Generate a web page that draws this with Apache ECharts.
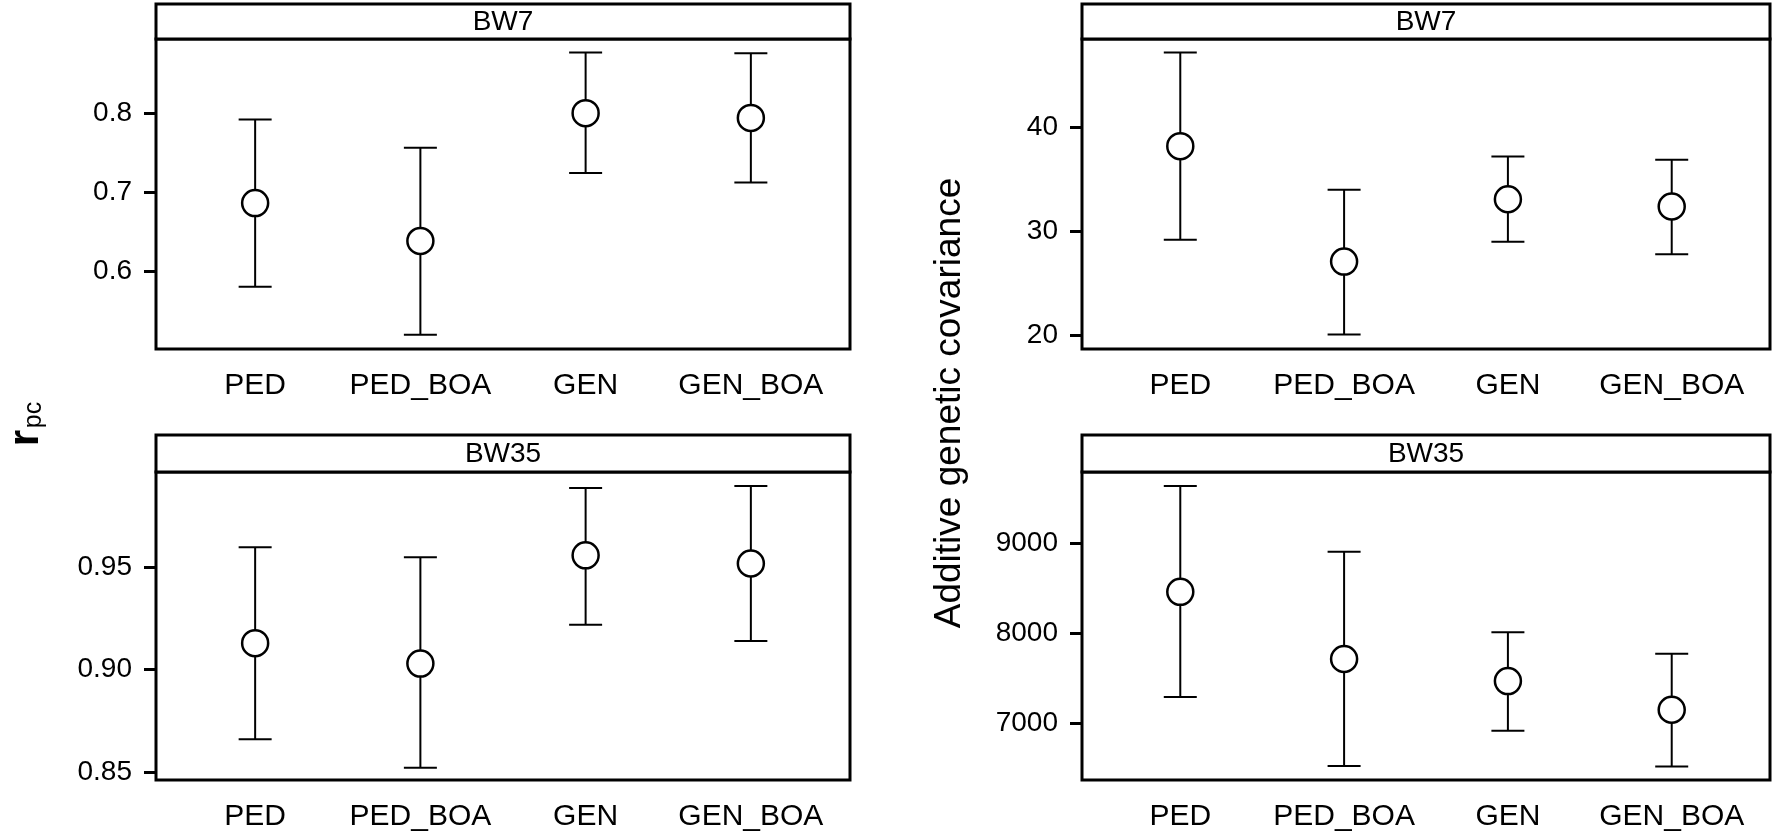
<!DOCTYPE html>
<html><head><meta charset="utf-8">
<script src="https://cdn.jsdelivr.net/npm/echarts@6/dist/echarts.min.js"></script>
<style>html,body{margin:0;padding:0;background:#fff}#c{width:1773px;height:837px}</style>
</head><body><div id="c"></div>
<script>
// ---- data ----
const categories = ['PED', 'PED_BOA', 'GEN', 'GEN_BOA'];

const bw7RpcEst  = [0.686, 0.638, 0.800, 0.794];
const bw7RpcLow  = [0.580, 0.519, 0.724, 0.712];
const bw7RpcHigh = [0.792, 0.756, 0.877, 0.876];

const bw35RpcEst  = [0.913, 0.903, 0.956, 0.952];
const bw35RpcLow  = [0.866, 0.852, 0.922, 0.914];
const bw35RpcHigh = [0.960, 0.955, 0.989, 0.990];

const bw7CovEst  = [38.2, 27.1, 33.1, 32.4];
const bw7CovLow  = [29.2, 20.1, 29.0, 27.8];
const bw7CovHigh = [47.2, 34.0, 37.2, 36.9];

const bw35CovEst  = [8462, 7715, 7470, 7151];
const bw35CovLow  = [7292, 6526, 6919, 6519];
const bw35CovHigh = [9640, 8907, 8014, 7773];

const bw7RpcTicks = [0.6, 0.7, 0.8];
const bw7RpcTickLabels = ['0.6', '0.7', '0.8'];
const bw35RpcTicks = [0.85, 0.90, 0.95];
const bw35RpcTickLabels = ['0.85', '0.90', '0.95'];
const bw7CovTicks = [20, 30, 40];
const bw7CovTickLabels = ['20', '30', '40'];
const bw35CovTicks = [7000, 8000, 9000];
const bw35CovTickLabels = ['7000', '8000', '9000'];

const stripLabels = ['BW7', 'BW35'];
const yTitleRight = 'Additive genetic covariance';

// ---- layout ----
const FONT = '"Liberation Sans", Arial, Helvetica, sans-serif';
const panels = [
  {strip: stripLabels[0], est: bw7RpcEst, low: bw7RpcLow, high: bw7RpcHigh, ticks: bw7RpcTicks, labels: bw7RpcTickLabels,
   min: 0.501, max: 0.894, left: 156, top: 39, width: 694, height: 310, stripTop: 4},
  {strip: stripLabels[0], est: bw7CovEst, low: bw7CovLow, high: bw7CovHigh, ticks: bw7CovTicks, labels: bw7CovTickLabels,
   min: 18.7, max: 48.5, left: 1082, top: 39, width: 688, height: 310, stripTop: 4},
  {strip: stripLabels[1], est: bw35RpcEst, low: bw35RpcLow, high: bw35RpcHigh, ticks: bw35RpcTicks, labels: bw35RpcTickLabels,
   min: 0.846, max: 0.9968, left: 156, top: 472, width: 694, height: 308, stripTop: 435},
  {strip: stripLabels[1], est: bw35CovEst, low: bw35CovLow, high: bw35CovHigh, ticks: bw35CovTicks, labels: bw35CovTickLabels,
   min: 6370, max: 9795, left: 1082, top: 472, width: 688, height: 308, stripTop: 435}
];

const grid = [], xAxis = [], yAxis = [], series = [], graphic = [];
panels.forEach((p, i) => {
  grid.push({left: p.left, top: p.top, width: p.width, height: p.height, show: true,
             borderColor: '#000', borderWidth: 3, backgroundColor: 'transparent', containLabel: false});
  xAxis.push({type: 'value', gridIndex: i, min: 0.4, max: 4.6,
    axisLine: {show: false}, axisTick: {show: false}, splitLine: {show: false},
    axisLabel: {customValues: categories.map((c, k) => k + 1), formatter: v => categories[Math.round(v) - 1],
                margin: 22, color: '#000', fontSize: 30, fontFamily: FONT}});
  yAxis.push({type: 'value', gridIndex: i, min: p.min, max: p.max,
    axisLine: {show: false}, splitLine: {show: false},
    axisTick: {show: true, customValues: p.ticks, length: 12, lineStyle: {color: '#000', width: 3}},
    axisLabel: {customValues: p.ticks, formatter: v => p.labels[p.ticks.findIndex(t => Math.abs(t - v) < 1e-9)],
                margin: 24, color: '#000', fontSize: 28, fontFamily: FONT}});
  series.push({type: 'custom', xAxisIndex: i, yAxisIndex: i, z: 2, silent: true,
    data: categories.map((c, k) => [k + 1, p.low[k], p.high[k]]),
    renderItem: (params, api) => {
      const x = api.value(0);
      const a = api.coord([x, api.value(1)]), b = api.coord([x, api.value(2)]);
      const hw = 16.5, st = {stroke: '#000', lineWidth: 2};
      return {type: 'group', children: [
        {type: 'line', shape: {x1: a[0], y1: a[1], x2: b[0], y2: b[1]}, style: st},
        {type: 'line', shape: {x1: a[0] - hw, y1: a[1], x2: a[0] + hw, y2: a[1]}, style: st},
        {type: 'line', shape: {x1: b[0] - hw, y1: b[1], x2: b[0] + hw, y2: b[1]}, style: st}
      ]};
    }});
  series.push({type: 'scatter', xAxisIndex: i, yAxisIndex: i, z: 3, silent: true,
    data: categories.map((c, k) => [k + 1, p.est[k]]),
    symbol: 'circle', symbolSize: 26,
    itemStyle: {color: '#fff', borderColor: '#000', borderWidth: 2.5, opacity: 1}});
  graphic.push({type: 'rect', z: 10,
    shape: {x: p.left, y: p.stripTop, width: p.width, height: p.top - p.stripTop},
    style: {fill: '#fff', stroke: '#000', lineWidth: 3}});
  graphic.push({type: 'text', z: 11, x: p.left + p.width / 2, y: (p.stripTop + p.top) / 2 + 1,
    style: {text: p.strip, font: '28px ' + FONT, fill: '#000', textAlign: 'center', textVerticalAlign: 'middle'}});
});

graphic.push({type: 'text', z: 11, x: 950, y: 403, rotation: Math.PI / 2,
  style: {text: yTitleRight, font: '37px ' + FONT, fill: '#000', textAlign: 'center', textVerticalAlign: 'middle'}});
graphic.push({type: 'text', z: 11, x: 26, y: 438, rotation: Math.PI / 2,
  style: {text: 'r', font: 'bold 42px ' + FONT, fill: '#000', textAlign: 'center', textVerticalAlign: 'middle'}});
graphic.push({type: 'text', z: 11, x: 34, y: 415, rotation: Math.PI / 2,
  style: {text: 'pc', font: '25px ' + FONT, fill: '#000', textAlign: 'center', textVerticalAlign: 'middle'}});

const chart = echarts.init(document.getElementById('c'), null, {renderer: 'canvas'});
chart.setOption({animation: false, backgroundColor: '#fff', grid, xAxis, yAxis, series, graphic});
</script>
</body></html>
